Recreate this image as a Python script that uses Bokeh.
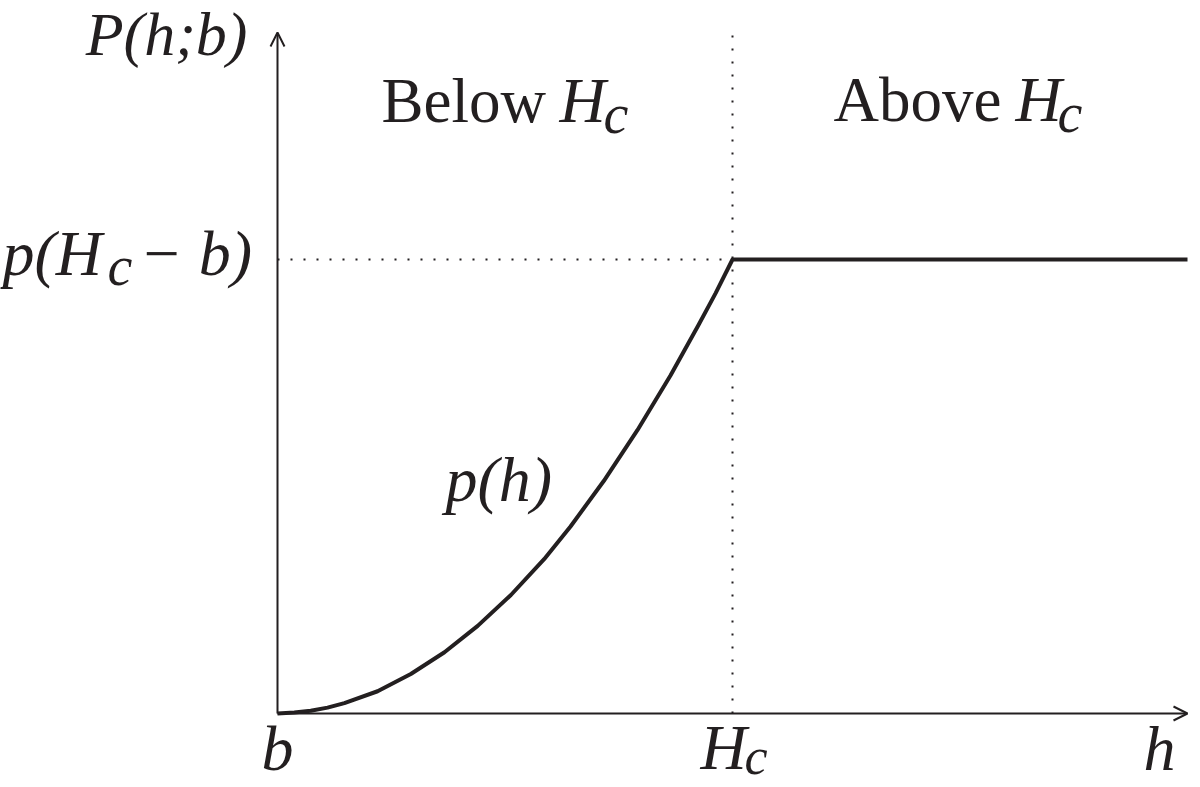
from bokeh.plotting import figure
from bokeh.models import Range1d, Label, Arrow, OpenHead, ColumnDataSource
from bokeh.embed import file_html
from bokeh.resources import INLINE

# ---- data (units: b = 0, H_c = 1, p(H_c - b) = 1) ----
b_val = 0.0
hc_val = 1.0
pc_val = 1.0
h_max = 2.0
P_max = 1.5
h_curve = [0.0, 0.037, 0.073, 0.110, 0.147, 0.220, 0.293, 0.367, 0.440,
           0.513, 0.586, 0.644, 0.717, 0.791, 0.864, 0.925, 0.963, 1.0, 2.0]
p_curve = [0.0, 0.002, 0.006, 0.013, 0.023, 0.049, 0.087, 0.135, 0.193,
           0.261, 0.340, 0.412, 0.512, 0.624, 0.745, 0.855, 0.926, 1.0, 1.0]

INK = "#231f20"
SERIF = "Liberation Serif"

W, H = 1200, 787
# layout: origin at (277, 713) px, one unit = 455 px horizontally, 454 px vertically
OX, OY, UX, UY = 277, 713, 455.0, 454.0

p = figure(width=W, height=H, output_backend="svg", toolbar_location=None,
           x_range=Range1d(-OX / UX, (W - OX) / UX),
           y_range=Range1d(-(H - OY) / UY, OY / UY),
           min_border=0, outline_line_color=None)
p.axis.visible = False
p.grid.visible = False
p.background_fill_color = "white"
p.border_fill_color = "white"


def px(x):
    return (x - OX) / UX


def py(y):
    return (OY - y) / UY


# dotted guides
p.line([b_val, hc_val], [pc_val, pc_val], line_color=INK, line_width=2,
       line_dash="2 11")
p.line([hc_val, hc_val], [0, P_max], line_color=INK, line_width=2,
       line_dash="2 11")

# axes with open arrow heads
p.add_layout(Arrow(end=OpenHead(size=14, line_width=2, line_color=INK),
                   x_start=b_val, y_start=0, x_end=h_max, y_end=0,
                   line_width=2, line_color=INK))
p.add_layout(Arrow(end=OpenHead(size=14, line_width=2, line_color=INK),
                   x_start=b_val, y_start=0, x_end=b_val, y_end=P_max,
                   line_width=2, line_color=INK))

# curve
src = ColumnDataSource(dict(h=h_curve, p=p_curve))
p.line("h", "p", source=src, line_color=INK, line_width=4, line_join="round")


def lab(text, x, y, size=64, italic=True, align="left"):
    # y is the wanted baseline (px from top); compensate label placement
    yb = y - 0.37 * size
    p.add_layout(Label(x=px(x), y=py(yb), text=text, text_font=SERIF,
                       text_font_size=f"{size}px",
                       text_font_style="italic" if italic else "normal",
                       text_align=align, text_baseline="alphabetic",
                       text_color=INK))


# y-axis title and tick label
lab("P(h;b)", 247, 56, size=62, align="right")
lab("p(H", 2, 277)
lab("c", 107, 286, size=56)
lab("\u2212 b)", 139, 277)

# region titles
lab("Below", 381, 124, size=63, italic=False)
lab("H", 559, 124)
lab("c", 603, 134, size=56)
lab("Above", 833, 123, size=63, italic=False)
lab("H", 1015, 123)
lab("c", 1057, 133, size=56)

# curve label
lab("p(h)", 445, 503)

# x-axis labels
lab("b", 277, 772, align="center")
lab("H", 700, 771)
lab("c", 744, 775, size=52)
lab("h", 1143, 772)

open("out.html", "w").write(file_html(p, INLINE))
